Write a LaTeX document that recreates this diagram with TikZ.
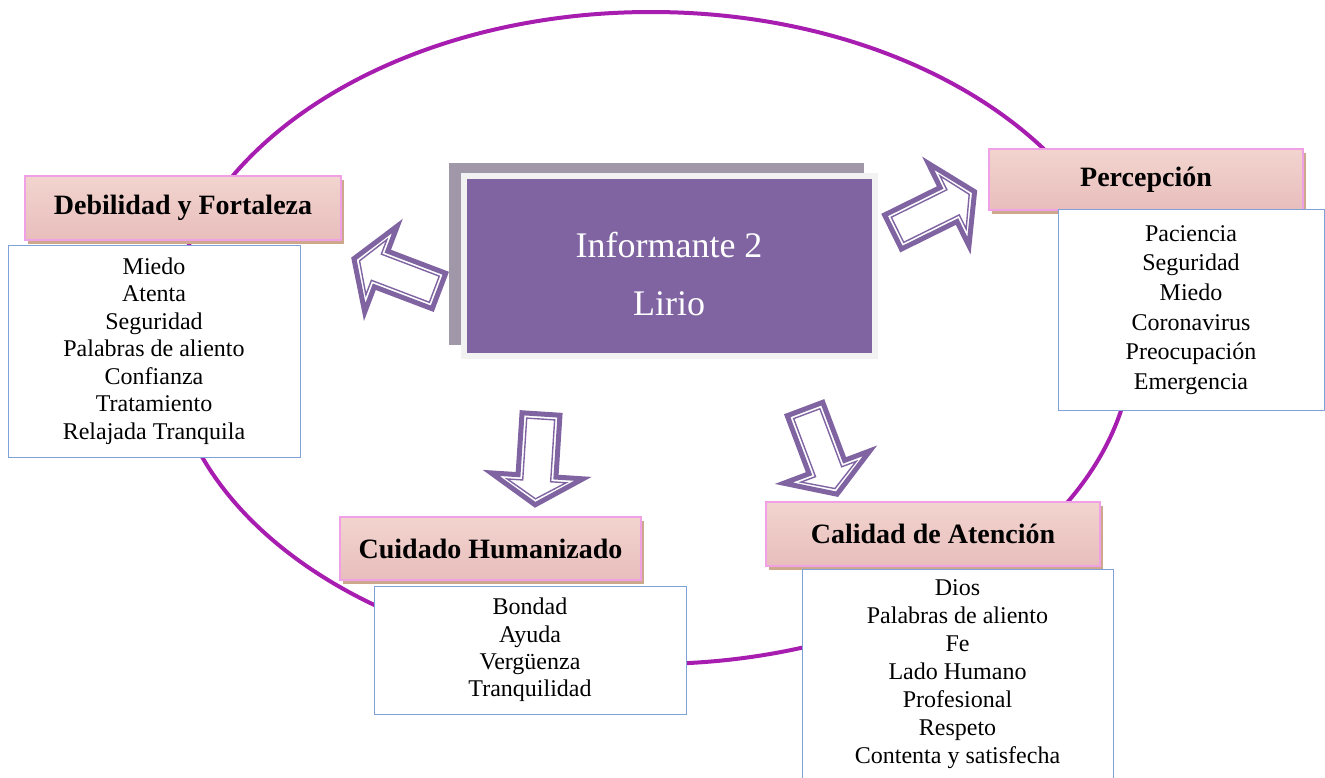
\documentclass[tikz,border=0pt]{standalone}
\usepackage{fontspec}
\setmainfont{Liberation Serif}
\usetikzlibrary{shadows}
\definecolor{ringc}{RGB}{167,29,176}
\definecolor{lila}{RGB}{128,100,162}
\definecolor{greyshade}{RGB}{160,151,169}
\definecolor{frontrim}{RGB}{242,242,242}
\definecolor{pinkrim}{RGB}{240,160,228}
\definecolor{tanshade}{RGB}{205,168,140}
\definecolor{bluerim}{RGB}{126,162,216}
\definecolor{rosetop}{RGB}{242,212,206}
\definecolor{rosemid}{RGB}{251,232,222}
\definecolor{rosebot}{RGB}{232,190,188}
\newcommand{\hollowarrow}[3]{%
 \begin{scope}[shift={(#1,#2)}, rotate=#3]
  \draw[arrowout] (0,-19)--(62,-19)--(62,-46)--(91,0)--(62,46)--(62,19)--(0,19)--cycle;
  \draw[arrowin] (5,-14)--(67,-14)--(67,-29.5)--(85,0)--(67,29.5)--(67,14)--(5,14)--cycle;
 \end{scope}}
\begin{document}
\begin{tikzpicture}[x=0.5pt, y=-0.5pt, line join=miter,
 ring/.style={draw=ringc, line width=2pt},
 arrowout/.style={draw=lila, fill=white, line width=2.5pt},
 arrowin/.style={draw=lila, line width=0.7pt},
 head/.style={draw=pinkrim, line width=1pt, top color=rosetop, middle color=rosemid, bottom color=rosebot,
  drop shadow={shadow xshift=1.6pt, shadow yshift=-2pt, fill=tanshade, opacity=1},
  font=\fontsize{14}{16}\selectfont\bfseries, inner sep=0pt},
 list/.style={draw=bluerim, line width=0.5pt, fill=white, align=center, inner sep=0pt},
 inform/.style={fill=lila, draw=frontrim, line width=3pt,
  drop shadow={shadow xshift=-6.25pt, shadow yshift=5.75pt, shadow scale=1.01, fill=greyshade, opacity=1}}]
 \useasboundingbox (0,0) rectangle (1325,777);
 \draw[ring] (651,338) ellipse [x radius=241pt, y radius=163pt];
 % central box
 \node[inform, minimum width=205.5pt, minimum height=90pt] (inf) at (669.5,266) {};
 \node[text=white, align=center, font=\fontsize{18}{29}\selectfont] (infT) at (669,274) {Informante 2\\Lirio};
 % categories
 \node[head, minimum width=158pt, minimum height=32pt] (deb) at (183,208) {Debilidad y Fortaleza};
 \node[list, minimum width=146pt, minimum height=106pt, font=\fontsize{12}{13.75}\selectfont] (debL) at (154,351)
  {Miedo\\Atenta\\Seguridad\\Palabras de aliento\\Confianza\\Tratamiento\\Relajada Tranquila};
 \node[head, minimum width=157pt, minimum height=30.5pt] (per) at (1146,179.5) {Percepción};
 \node[list, minimum width=133pt, minimum height=100.5pt, font=\fontsize{12}{14.85}\selectfont] (perL) at (1191,310)
  {Paciencia\\Seguridad\\Miedo\\Coronavirus\\Preocupación\\Emergencia};
 \node[head, minimum width=150.5pt, minimum height=31.5pt] (cui) at (490.5,548.5) {Cuidado Humanizado};
 \node[list, minimum width=156pt, minimum height=64pt, font=\fontsize{12}{13.65}\selectfont] (cuiL) at (530,650)
  {Bondad\\Ayuda\\Vergüenza\\Tranquilidad};
 \node[head, minimum width=167pt, minimum height=32pt] (cal) at (933,534) {Calidad de Atención};
 \node[list, minimum width=155.5pt, minimum height=105.5pt, font=\fontsize{12}{14}\selectfont] (calL) at (957.5,674.5)
  {Dios\\Palabras de aliento\\Fe\\Lado Humano\\Profesional\\Respeto\\Contenta y satisfecha};
 % block arrows
 \hollowarrow{439}{291}{159.2}
 \hollowarrow{893}{232}{26.3}
 \hollowarrow{541}{414}{266.3}
 \hollowarrow{805}{409}{-69.4}
\end{tikzpicture}
\end{document}
